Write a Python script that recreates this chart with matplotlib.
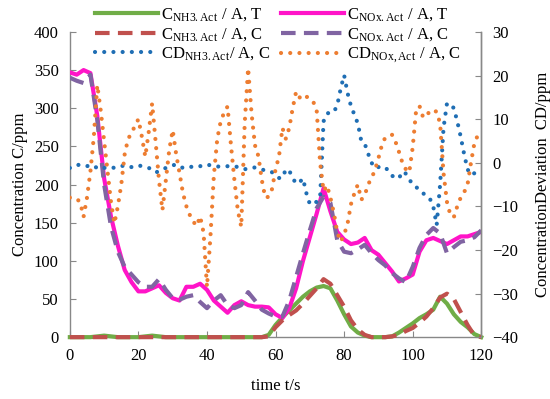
import numpy as np
import matplotlib
matplotlib.use("Agg")
import matplotlib.pyplot as plt

plt.rcParams['font.family'] = ['Liberation Serif', 'DejaVu Serif']
plt.rcParams['mathtext.fontset'] = 'stix'

# concentration curves, sampled every 2 s
t_c = np.arange(0, 121, 2)
nh3_at = [0, 0, 0, 0, 1, 2, 1, 0, 0, 0, 0, 1, 2, 1, 0, 0, 0, 0, 0, 0, 0, 0, 0, 0, 0, 0, 0, 0, 0,
          3, 16, 26, 35, 44, 53, 60, 65, 67, 64, 48, 30, 14, 6, 2, 0, 0, 0, 1, 6, 12, 18, 25, 30,
          36, 53, 44, 30, 20, 13, 4, 0]
nh3_ac = [0] * 29 + [1, 13, 22, 29, 35, 44, 54, 64, 76, 70, 55, 40, 22, 10, 3, 0, 0, 0, 1, 3, 8,
                     12, 19, 27, 38, 52, 57, 50, 33, 16, 2, 0]
nox_at = [347, 344, 350, 346, 290, 208, 158, 120, 88, 72, 60, 60, 64, 68, 58, 51, 48, 66, 66, 70,
          62, 48, 40, 32, 42, 47, 42, 40, 40, 39, 30, 25, 38, 64, 100, 131, 162, 195, 165, 138,
          128, 122, 124, 130, 114, 108, 97, 86, 73, 77, 82, 112, 127, 130, 126, 122, 127, 132,
          132, 135, 138]
nox_ac = [340, 336, 333, 344, 285, 200, 145, 112, 92, 82, 72, 66, 66, 76, 62, 51, 49, 53, 55, 46,
          38, 48, 55, 42, 38, 42, 59, 48, 36, 31, 27, 27, 48, 79, 110, 140, 169, 184, 176, 127,
          112, 110, 115, 121, 110, 101, 94, 84, 77, 72, 92, 117, 134, 143, 136, 110, 118, 125,
          127, 131, 140]

# concentration deviation, sampled every 1 s
t_cd = np.arange(0, 121, 1)
cd_nh3 = [-1.2, -0.8, -0.5, -0.5, -0.6, -0.8, -0.5, -0.8, -1.2, -1.5,
          -1.2, -1.0, -1.0, -1.2, -1.0, -0.8, -0.6, -0.8, -1.0, -0.8,
          -0.6, -0.8, -1.0, -1.2, -1.5, -2.2, -2.0, -1.5, -1.2, -1.0,
          -0.6, -0.4, -0.8, -1.2, -1.0, -0.9, -1.0, -0.8, -0.8, -0.5,
          -0.4, -0.6, -0.8, -0.9, -0.8, -0.8, -0.8, -0.8, -0.8, -1.0,
          -1.3, -1.5, -1.3, -1.1, -1.1, -1.4, -1.6, -1.7, -1.8, -2.2,
          -2.8, -3.5, -3.5, -1.5, -1.8, -3.5, -4.8, -4.5, -3.6, -7.0,
          -9.5, -9.0, -9.0, -8.0, 9.5, 11.3, 11.5, 11.6, 13.2, 17.0,
          20.1, 16.0, 13.0, 11.0, 9.0, 5.0, 4.4, 2.1, 0.0, -1.2,
          -1.0, -0.9, -1.0, -2.0, -3.0, -3.4, -3.6, -2.0, -2.5, -3.8,
          -5.0, -5.5, -6.5, -7.0, -7.5, -8.2, -10.0, -14.3, -5.0, 8.0,
          13.6, 13.5, 12.5, 9.5, 6.0, 2.0, -1.5, -2.8, -2.4, -2.0,
          -1.8]
cd_nox = [-8, -8, -8.3, -9, -12.4, -8, -2, 6, 17.8, 12,
          5, -2, -9, -13.9, -10, -5, 2, 5.5, 6.8, 8.5,
          10, 6, 1.4, 7, 13.6, 5, -4, -10.9, -4, 3,
          7.5, 2, -2.4, -7, -10, -12, -13.5, -14.5, -12.3, -16,
          -28.5, -17, -3, 5.5, 9.5, 11.5, 12.9, 4, -4, -11,
          -14.7, 9, 21.7, 11.3, 4, 1.5, -4, -8, -7.8, -6,
          -1.5, 1.4, 8, 5.5, 8, 12.5, 16.3, 15, 14.5, 15.2,
          14.5, 14, 12, 0, -6.5, -5.2, -8, -11.5, -16, -18.1,
          -16.5, -14, -9.5, -7, -5, -8.5, -7.5, -5, -3.5, -1.7,
          1, 4, 5.8, 6.2, 6.4, 4.8, 2.5, 0, -1.5, -2.2,
          3.5, 12, 13, 10.5, 10.5, 12, 12, 11.7, 9, -2.4,
          -9, -12, -12.5, -10, -8, -6.8, -5, 0, 4.5, 6.3,
          6.5]

green = '#70AD47'
red = '#C0504D'
pink = '#FF14C8'
purple = '#8064A2'
blue = '#1F6EB4'
orange = '#ED7D31'
grey = '#888888'

fig = plt.figure(figsize=(5.5, 3.99), dpi=100)
ax = fig.add_axes([0.127, 0.155, 0.748, 0.765])
ax2 = ax.twinx()

lw = 3.0
h1, = ax.plot(t_c, nh3_at, color=green, lw=lw, clip_on=False, zorder=3)
h2, = ax.plot(t_c, nox_at, color=pink, lw=lw, zorder=3)
h3, = ax.plot(t_c, nh3_ac, color=red, lw=lw, ls=(0, (3.5, 2.0)), clip_on=False, zorder=4)
h4, = ax.plot(t_c, nox_ac, color=purple, lw=lw, ls=(0, (3.5, 2.0)), zorder=4)
h5, = ax2.plot(t_cd, cd_nh3, color=blue, lw=3.0, ls=(0, (0.01, 2.2)), dash_capstyle='round')
h6, = ax2.plot(t_cd, cd_nox, color=orange, lw=3.0, ls=(0, (0.01, 2.2)), dash_capstyle='round')

ax.set_xlim(0, 120)
ax.set_ylim(0, 400)
ax2.set_ylim(-40, 30)
ax.set_xticks(np.arange(0, 121, 20))
ax.set_yticks(np.arange(0, 401, 50))
ax2.set_yticks(np.arange(-40, 31, 10))

for a in (ax, ax2):
    a.spines['top'].set_visible(False)
    for s in ('left', 'right', 'bottom'):
        a.spines[s].set_color(grey)
        a.spines[s].set_linewidth(1.0)
    a.tick_params(direction='in', length=4, color=grey, labelsize=12, pad=8)
ax2.spines['left'].set_visible(False)
ax2.spines['bottom'].set_visible(False)

ax.set_xlabel('time t/s', fontsize=12, labelpad=10)
ax.set_ylabel('Concentration C/ppm', fontsize=12, labelpad=4)
ax2.set_ylabel('ConcentrationDeviation  CD/ppm', fontsize=12, labelpad=12)

labels = [r'C$_{\mathregular{NH3.Act}}$ / A, T',
          r'C$_{\mathregular{NH3.Act}}$ / A, C',
          r'CD$_{\mathregular{NH3.Act}}$/ A, C',
          r'C$_{\mathregular{NOx.Act}}$ / A, T',
          r'C$_{\mathregular{NOx.Act}}$ / A, C',
          r'CD$_{\mathregular{NOx,Act}}$ / A, C']
fig.legend([h1, h3, h5, h2, h4, h6], labels, ncol=2, loc='upper left',
           bbox_to_anchor=(0.16, 1.0), frameon=False, fontsize=12,
           handlelength=3.8, handletextpad=0.2, columnspacing=0.6,
           labelspacing=0.15, borderaxespad=0.0)

fig.savefig('out.png', dpi=100)
